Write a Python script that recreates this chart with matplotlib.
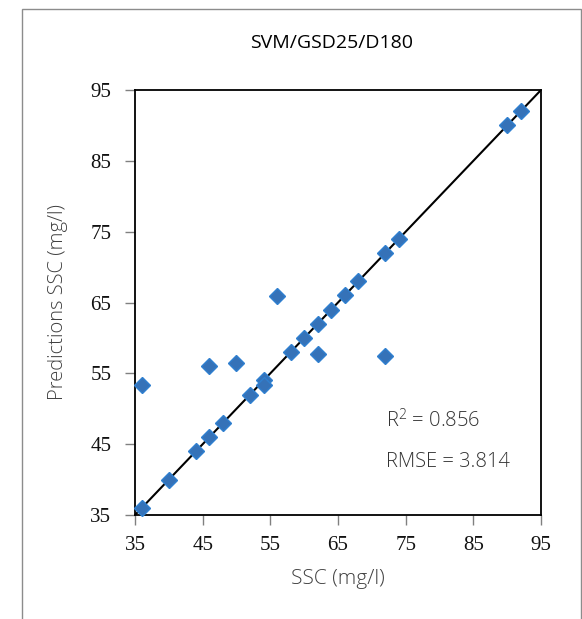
import numpy as np
import matplotlib
matplotlib.use("Agg")
import matplotlib.pyplot as plt
from matplotlib.patches import Rectangle

# observed vs predicted suspended sediment concentration
ssc_obs = [36, 36, 40, 44, 46, 46, 48, 50, 52, 54, 54, 56, 58, 60, 62, 62,
           64, 66, 68, 72, 72, 74, 90, 92]
ssc_pred = [36.0, 53.3, 40.0, 44.0, 46.0, 56.0, 48.0, 56.4, 52.0, 54.0, 53.3, 65.9,
            58.0, 60.0, 62.0, 57.8, 64.0, 66.0, 68.0, 72.0, 57.4, 74.0, 90.0, 92.0]
ticks = [35, 45, 55, 65, 75, 85, 95]
r2 = 0.856
rmse = 3.814

fig = plt.figure(figsize=(5.82, 6.19), dpi=100)

# outer chart frame
fig.patches.append(Rectangle((22/582, -0.05), 559/582, 1 - 9/619 + 0.05,
                             transform=fig.transFigure, fill=False,
                             edgecolor='#8c8c8c', linewidth=1.0))

ax = fig.add_axes([135/582, 1 - 515/619, 406/582, 425/619])
ax.plot([35, 95], [35, 95], color='black', linewidth=1.5, zorder=2)
ax.plot(ssc_obs, ssc_pred, 'D', markersize=8, markerfacecolor='#3572b8',
        markeredgecolor='#2f80d0', markeredgewidth=1.0, zorder=3, clip_on=False)

ax.set_xlim(35, 95)
ax.set_ylim(35, 95)
ax.set_xticks(ticks)
ax.set_yticks(ticks)
ax.tick_params(axis='both', direction='out', length=7, width=1, color='#808080',
               labelsize=15, labelcolor='#111111')
ax.tick_params(axis='y', pad=10)
ax.tick_params(axis='x', pad=8)
for lab in ax.get_xticklabels() + ax.get_yticklabels():
    lab.set_family('Liberation Serif')
for sp in ax.spines.values():
    sp.set_linewidth(1.3)
    sp.set_color('black')

ax.set_xlabel('SSC (mg/l)', fontsize=15, color='#404040', family='Open Sans',
              fontweight='light', labelpad=10)
ax.set_ylabel('Predictions SSC (mg/l)', fontsize=14.5, color='#404040',
              family='Open Sans', fontweight='light', labelpad=16)

fig.text(332/582, 1 - 43/619, 'SVM/GSD25/D180', ha='center', va='center',
         fontsize=14, family='Open Sans', color='black')

ax.text(0.617, 0.222, '$\\mathregular{R^2}$ = %.3f' % r2, transform=ax.transAxes,
        fontsize=14.5, color='#333333', family='Open Sans', fontweight='light',
        va='center')
ax.text(0.617, 0.125, 'RMSE = %.3f' % rmse, transform=ax.transAxes,
        fontsize=14.5, color='#333333', family='Open Sans', fontweight='light',
        va='center')

fig.savefig('out.png', dpi=100)
